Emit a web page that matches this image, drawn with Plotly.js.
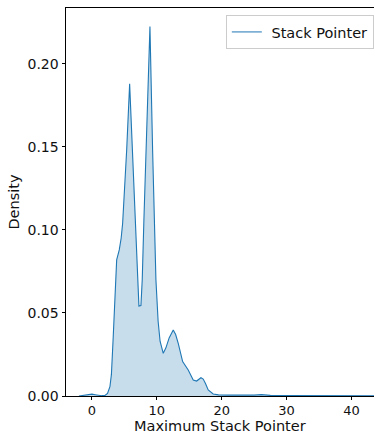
<!DOCTYPE html>
<html>
<head>
<meta charset="utf-8">
<script src="https://cdn.plot.ly/plotly-3.0.1.min.js"></script>
<style>
html, body { margin: 0; padding: 0; overflow: hidden; background: #fff; }
#chart { width: 380px; height: 433px; }
</style>
</head>
<body>
<div id="chart"></div>
<script>
const seriesName = "\u00a0Stack Pointer";
const xTitle = "Maximum Stack Pointer";
const xValues = [-2.0, -1.5, -1.0, -0.5, 0.0, 0.5, 1.0, 1.5, 2.0, 2.4, 2.77, 3.0, 3.28, 3.65, 3.81, 4.21, 4.5, 4.73, 5.08, 5.35, 5.81, 6.21, 6.6, 6.98, 7.24, 7.55, 7.75, 8.0, 8.32, 8.94, 9.35, 9.86, 10.2, 10.5, 10.99, 11.4, 11.9, 12.53, 12.9, 13.3, 13.98, 14.84, 15.61, 16.13, 16.8, 17.15, 17.5, 17.92, 18.69, 19.5, 21, 23, 25, 26.1, 27.5, 30, 33, 36, 40, 43.5];
const densityValues = [0, 0.0002, 0.0004, 0.0008, 0.0011, 0.0008, 0.0004, 0.0002, 0.0003, 0.0015, 0.0056, 0.013, 0.0357, 0.064, 0.082, 0.088, 0.095, 0.104, 0.128, 0.148, 0.188, 0.148, 0.108, 0.070, 0.0542, 0.0545, 0.070, 0.105, 0.148, 0.2225, 0.148, 0.070, 0.045, 0.033, 0.0257, 0.029, 0.035, 0.0398, 0.037, 0.0317, 0.0207, 0.0157, 0.0096, 0.009, 0.011, 0.0102, 0.0075, 0.0036, 0.0012, 0.0007, 0.0005, 0.0004, 0.0005, 0.0008, 0.0004, 0.0003, 0.0003, 0.0002, 0.0003, 0.0001];
const xTicks = [0, 10, 20, 30, 40];
const yTicks = [0.00, 0.05, 0.10, 0.15, 0.20];

const font = "DejaVu Sans, sans-serif";
const traces = [
  {
    x: xValues, y: densityValues, type: "scatter", mode: "lines",
    fill: "tozeroy", fillcolor: "rgba(31,119,180,0.25)",
    line: { color: "#1f77b4", width: 1.1 },
    showlegend: false, hoverinfo: "skip"
  },
  {
    x: [null], y: [null], type: "scatter", mode: "lines",
    name: seriesName, line: { color: "#7eb0d5", width: 1.6 }
  }
];
const layout = {
  width: 380, height: 433,
  margin: { l: 66, r: 0, t: 8, b: 37 },
  paper_bgcolor: "#fff", plot_bgcolor: "#fff",
  font: { family: font, size: 13, color: "#000" },
  showlegend: true,
  legend: {
    x: 0.509, y: 0.982, xanchor: "left", yanchor: "top",
    bgcolor: "#fff", bordercolor: "#cccccc", borderwidth: 1,
    font: { family: font, size: 14.5, color: "#111" },
    itemwidth: 30
  },
  xaxis: {
    range: [-4.0, 44.4], tickvals: xTicks, ticktext: xTicks.map(String),
    showgrid: false, zeroline: false,
    showline: true, linecolor: "#000", linewidth: 1, mirror: true,
    ticks: "outside", ticklen: 2.5, tickwidth: 1, tickcolor: "#000",
    tickfont: { family: font, size: 13, color: "#111" }
  },
  yaxis: {
    range: [0, 0.2337], tickvals: yTicks, ticktext: yTicks.map(v => v.toFixed(2)),
    showgrid: false, zeroline: false,
    showline: true, linecolor: "#000", linewidth: 1, mirror: true,
    ticks: "outside", ticklen: 3.5, tickwidth: 1, tickcolor: "#000",
    tickfont: { family: font, size: 14, color: "#111" },
    title: { text: "Density", font: { family: font, size: 14.5, color: "#111" }, standoff: 4 }
  },
  annotations: [{
    text: xTitle, xref: "paper", yref: "paper", x: 0.49, y: -0.1005,
    xanchor: "center", yanchor: "bottom", showarrow: false, borderpad: 0,
    font: { family: font, size: 14.5, color: "#111" }
  }]
};
Plotly.newPlot("chart", traces, layout, { displayModeBar: false, staticPlot: true });
</script>
</body>
</html>
